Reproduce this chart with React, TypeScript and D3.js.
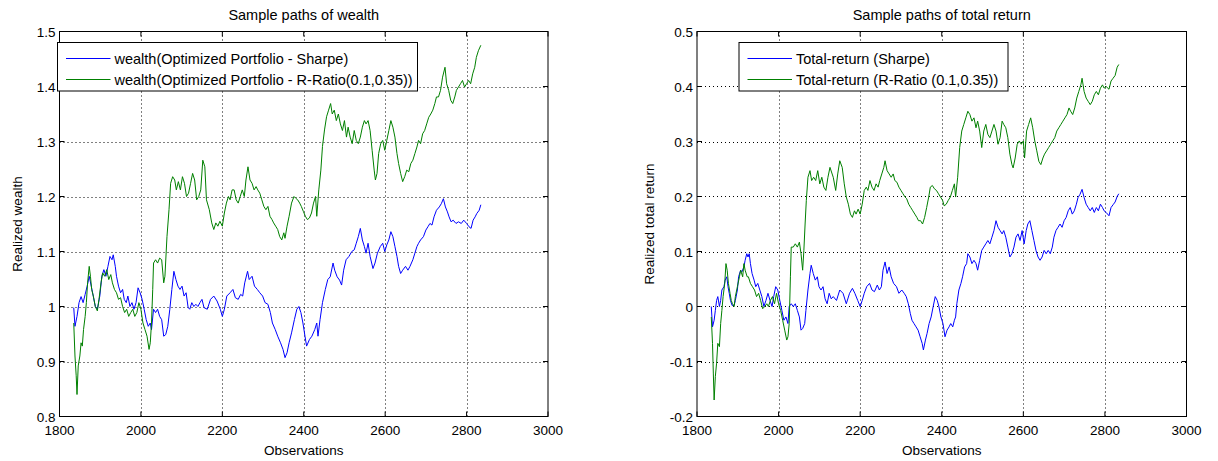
import * as d3 from 'd3'

const X_TICKS = [1800, 2000, 2200, 2400, 2600, 2800, 3000]
const WEALTH_TICKS = [0.8, 0.9, 1, 1.1, 1.2, 1.3, 1.4, 1.5]
const RETURN_TICKS = [-0.2, -0.1, 0, 0.1, 0.2, 0.3, 0.4, 0.5]

type Pt = [number, number]

const SHARPE_WEALTH: Pt[] = [[1835,0.998],[1838,0.964],[1843,0.982],[1848,1.007],[1853,1.018],[1858,1.007],[1863,1.022],[1868,1.037],[1873,1.055],[1878,1.037],[1883,1.019],[1888,1.0],[1893,0.995],[1899,1.019],[1904,1.055],[1909,1.067],[1914,1.055],[1919,1.073],[1924,1.091],[1929,1.085],[1932,1.094],[1937,1.073],[1940,1.055],[1945,1.037],[1950,1.025],[1955,1.031],[1959,1.013],[1964,1.007],[1968,1.019],[1973,1.0],[1978,1.007],[1983,0.995],[1988,1.007],[1993,1.034],[1998,1.025],[2003,1.013],[2008,0.995],[2013,0.976],[2018,0.964],[2023,0.97],[2026,0.958],[2031,0.995],[2036,0.989],[2041,0.995],[2046,0.982],[2051,0.976],[2056,0.946],[2061,0.949],[2066,0.964],[2071,0.995],[2076,1.031],[2081,1.064],[2086,1.049],[2091,1.037],[2096,1.031],[2101,1.037],[2106,1.019],[2111,1.025],[2116,0.998],[2120,0.995],[2125,1.007],[2130,1.0],[2135,1.004],[2140,1.0],[2145,1.007],[2150,1.013],[2155,0.998],[2163,0.995],[2171,1.013],[2179,1.019],[2187,1.01],[2195,0.995],[2200,0.982],[2205,0.995],[2211,1.019],[2219,1.025],[2226,1.031],[2232,1.016],[2239,1.013],[2245,1.022],[2250,1.019],[2255,1.043],[2262,1.064],[2266,1.049],[2273,1.055],[2279,1.037],[2286,1.031],[2292,1.025],[2299,1.019],[2305,1.007],[2312,1.004],[2318,0.989],[2323,0.97],[2330,0.958],[2336,0.946],[2343,0.934],[2349,0.922],[2354,0.907],[2359,0.916],[2364,0.934],[2370,0.952],[2377,0.976],[2383,0.995],[2388,1.0],[2393,0.989],[2398,0.97],[2403,0.946],[2407,0.928],[2414,0.94],[2420,0.946],[2427,0.958],[2432,0.97],[2435,0.946],[2440,0.976],[2446,1.007],[2453,1.031],[2459,1.049],[2465,1.054],[2472,1.079],[2476,1.066],[2482,1.054],[2488,1.048],[2493,1.039],[2498,1.066],[2504,1.085],[2511,1.091],[2518,1.1],[2524,1.103],[2529,1.115],[2534,1.127],[2539,1.142],[2544,1.121],[2549,1.109],[2553,1.097],[2558,1.115],[2563,1.091],[2570,1.069],[2575,1.079],[2581,1.097],[2588,1.109],[2594,1.115],[2599,1.1],[2604,1.112],[2609,1.121],[2614,1.136],[2619,1.127],[2624,1.109],[2629,1.091],[2633,1.073],[2638,1.06],[2643,1.066],[2650,1.073],[2656,1.066],[2661,1.073],[2668,1.085],[2673,1.097],[2678,1.109],[2682,1.115],[2687,1.121],[2694,1.127],[2700,1.139],[2705,1.145],[2710,1.151],[2715,1.148],[2720,1.163],[2726,1.175],[2733,1.181],[2738,1.187],[2743,1.196],[2748,1.181],[2753,1.172],[2757,1.163],[2762,1.154],[2767,1.157],[2774,1.151],[2780,1.154],[2787,1.151],[2793,1.157],[2800,1.151],[2806,1.145],[2811,1.142],[2816,1.157],[2821,1.163],[2825,1.169],[2831,1.175],[2835,1.185]]

const RRATIO_WEALTH: Pt[] = [[1835,0.97],[1838,0.91],[1841,0.874],[1843,0.84],[1846,0.892],[1850,0.91],[1853,0.934],[1856,0.928],[1859,0.958],[1863,0.982],[1866,1.007],[1869,1.043],[1873,1.073],[1876,1.055],[1879,1.031],[1883,1.019],[1888,1.0],[1893,0.992],[1897,1.013],[1902,1.043],[1906,1.061],[1911,1.055],[1916,1.067],[1921,1.049],[1926,1.058],[1930,1.043],[1935,1.031],[1940,1.025],[1945,1.013],[1950,1.016],[1955,1.0],[1960,0.989],[1965,0.995],[1970,0.982],[1975,0.989],[1980,0.995],[1985,0.982],[1990,0.989],[1995,1.007],[2000,0.995],[2005,0.97],[2010,0.958],[2015,0.946],[2020,0.922],[2023,0.934],[2026,0.97],[2029,1.031],[2031,1.079],[2036,1.085],[2041,1.079],[2046,1.088],[2051,1.085],[2056,1.043],[2059,1.055],[2064,1.127],[2069,1.176],[2073,1.224],[2078,1.236],[2083,1.23],[2087,1.212],[2092,1.227],[2097,1.212],[2102,1.236],[2107,1.224],[2112,1.2],[2117,1.206],[2122,1.224],[2127,1.242],[2132,1.23],[2137,1.194],[2142,1.2],[2147,1.212],[2152,1.266],[2157,1.254],[2161,1.194],[2168,1.176],[2174,1.152],[2179,1.14],[2184,1.152],[2189,1.146],[2194,1.155],[2200,1.146],[2205,1.17],[2210,1.188],[2215,1.2],[2219,1.194],[2224,1.212],[2229,1.212],[2234,1.194],[2239,1.188],[2244,1.2],[2249,1.212],[2254,1.2],[2258,1.23],[2263,1.254],[2268,1.23],[2273,1.224],[2278,1.212],[2283,1.218],[2287,1.212],[2292,1.206],[2297,1.194],[2302,1.182],[2307,1.176],[2312,1.182],[2317,1.164],[2322,1.158],[2326,1.152],[2331,1.146],[2336,1.14],[2341,1.127],[2346,1.121],[2351,1.134],[2354,1.124],[2359,1.146],[2364,1.164],[2370,1.188],[2376,1.2],[2380,1.197],[2385,1.194],[2390,1.188],[2394,1.182],[2399,1.173],[2404,1.164],[2409,1.158],[2414,1.161],[2419,1.17],[2424,1.188],[2429,1.2],[2432,1.164],[2437,1.212],[2442,1.248],[2446,1.291],[2451,1.321],[2456,1.345],[2461,1.357],[2466,1.369],[2470,1.35],[2475,1.357],[2480,1.338],[2485,1.35],[2490,1.332],[2495,1.32],[2500,1.338],[2505,1.308],[2509,1.326],[2514,1.308],[2519,1.296],[2524,1.32],[2529,1.302],[2534,1.296],[2539,1.308],[2544,1.326],[2549,1.338],[2553,1.332],[2558,1.338],[2563,1.32],[2568,1.284],[2573,1.248],[2576,1.23],[2580,1.242],[2584,1.278],[2589,1.296],[2594,1.302],[2599,1.284],[2604,1.302],[2609,1.32],[2614,1.338],[2619,1.326],[2624,1.308],[2629,1.278],[2633,1.26],[2638,1.242],[2643,1.227],[2648,1.236],[2653,1.248],[2658,1.245],[2663,1.26],[2668,1.266],[2673,1.278],[2678,1.29],[2682,1.302],[2687,1.296],[2692,1.314],[2697,1.32],[2702,1.332],[2707,1.344],[2712,1.35],[2717,1.357],[2722,1.369],[2726,1.381],[2731,1.381],[2736,1.393],[2741,1.417],[2747,1.435],[2751,1.405],[2756,1.393],[2761,1.375],[2766,1.369],[2771,1.381],[2775,1.393],[2780,1.399],[2785,1.405],[2790,1.411],[2795,1.399],[2800,1.405],[2805,1.411],[2810,1.405],[2815,1.423],[2820,1.435],[2824,1.453],[2829,1.465],[2835,1.475]]

const SHARPE_RETURN: Pt[] = [[1835,0.0],[1838,-0.037],[1842,-0.025],[1845,-0.007],[1848,0.011],[1851,0.018],[1855,0.0],[1858,0.011],[1861,0.03],[1866,0.036],[1869,0.048],[1873,0.054],[1876,0.036],[1879,0.024],[1882,0.011],[1886,0.002],[1891,0.002],[1894,0.011],[1899,0.03],[1902,0.054],[1907,0.066],[1910,0.063],[1915,0.072],[1918,0.084],[1922,0.096],[1925,0.09],[1928,0.096],[1931,0.078],[1935,0.06],[1940,0.048],[1944,0.036],[1949,0.042],[1954,0.03],[1959,0.018],[1964,0.0],[1969,0.011],[1974,0.024],[1979,0.011],[1984,0.0],[1988,0.018],[1993,0.036],[1998,0.03],[2003,0.011],[2008,-0.007],[2013,-0.025],[2018,-0.019],[2023,-0.031],[2026,0.0],[2031,0.005],[2036,0.0],[2041,0.005],[2046,-0.007],[2051,-0.019],[2055,-0.043],[2059,-0.04],[2064,-0.031],[2067,-0.007],[2072,0.03],[2077,0.06],[2080,0.075],[2085,0.06],[2090,0.048],[2095,0.054],[2099,0.036],[2104,0.03],[2109,0.036],[2114,0.014],[2119,0.005],[2124,0.024],[2129,0.014],[2134,0.018],[2142,0.011],[2150,0.03],[2158,0.024],[2166,0.005],[2174,0.024],[2181,0.033],[2187,0.024],[2194,0.011],[2200,0.0],[2205,0.011],[2210,0.024],[2216,0.036],[2223,0.042],[2229,0.03],[2235,0.027],[2242,0.039],[2247,0.03],[2252,0.036],[2256,0.066],[2261,0.081],[2266,0.06],[2271,0.072],[2276,0.054],[2282,0.042],[2289,0.036],[2295,0.024],[2302,0.03],[2308,0.024],[2313,0.018],[2318,0.005],[2323,-0.013],[2327,-0.025],[2332,-0.031],[2337,-0.037],[2342,-0.043],[2347,-0.055],[2352,-0.067],[2355,-0.079],[2360,-0.061],[2364,-0.049],[2369,-0.031],[2374,-0.019],[2379,0.0],[2384,0.018],[2389,0.011],[2393,0.0],[2398,-0.019],[2403,-0.031],[2408,-0.055],[2413,-0.043],[2418,-0.037],[2422,-0.031],[2427,-0.037],[2431,-0.025],[2434,-0.019],[2437,0.005],[2442,0.03],[2447,0.042],[2451,0.054],[2456,0.072],[2461,0.078],[2464,0.096],[2469,0.09],[2474,0.078],[2479,0.084],[2484,0.078],[2488,0.066],[2493,0.084],[2498,0.102],[2503,0.108],[2508,0.114],[2513,0.12],[2518,0.114],[2523,0.126],[2528,0.138],[2533,0.156],[2538,0.144],[2543,0.138],[2548,0.132],[2552,0.138],[2557,0.126],[2562,0.108],[2567,0.09],[2572,0.096],[2577,0.108],[2582,0.126],[2587,0.132],[2592,0.12],[2597,0.138],[2602,0.114],[2607,0.138],[2611,0.15],[2616,0.156],[2621,0.138],[2626,0.12],[2631,0.102],[2636,0.09],[2641,0.084],[2646,0.09],[2651,0.102],[2656,0.096],[2661,0.102],[2666,0.096],[2671,0.108],[2675,0.126],[2680,0.138],[2685,0.144],[2690,0.15],[2695,0.144],[2700,0.156],[2705,0.162],[2710,0.174],[2715,0.18],[2720,0.168],[2725,0.174],[2730,0.186],[2734,0.198],[2739,0.204],[2744,0.213],[2749,0.198],[2754,0.186],[2759,0.18],[2764,0.174],[2769,0.18],[2774,0.171],[2779,0.18],[2784,0.174],[2789,0.186],[2794,0.18],[2798,0.174],[2803,0.171],[2810,0.165],[2815,0.18],[2820,0.185],[2825,0.19],[2830,0.2],[2834,0.205]]

const RRATIO_RETURN: Pt[] = [[1835,-0.019],[1838,-0.067],[1840,-0.121],[1842,-0.17],[1845,-0.127],[1848,-0.103],[1851,-0.067],[1855,-0.073],[1858,-0.031],[1861,-0.007],[1864,0.018],[1868,0.042],[1871,0.078],[1874,0.066],[1877,0.042],[1881,0.024],[1884,0.011],[1887,0.005],[1891,0.0],[1894,0.018],[1899,0.036],[1904,0.054],[1907,0.066],[1912,0.054],[1915,0.078],[1918,0.066],[1923,0.054],[1926,0.054],[1931,0.042],[1936,0.036],[1941,0.03],[1946,0.018],[1951,0.024],[1956,0.011],[1961,-0.004],[1966,0.0],[1971,0.005],[1975,0.0],[1980,0.011],[1985,0.018],[1990,0.005],[1995,0.024],[2000,0.005],[2005,-0.007],[2010,-0.025],[2015,-0.043],[2020,-0.061],[2023,-0.055],[2026,-0.031],[2029,0.054],[2031,0.108],[2036,0.108],[2041,0.114],[2046,0.108],[2051,0.117],[2055,0.096],[2059,0.066],[2062,0.102],[2065,0.15],[2068,0.193],[2072,0.235],[2077,0.247],[2081,0.229],[2086,0.235],[2091,0.229],[2096,0.247],[2101,0.223],[2106,0.235],[2111,0.217],[2116,0.211],[2121,0.235],[2126,0.253],[2134,0.235],[2140,0.211],[2145,0.241],[2150,0.265],[2156,0.253],[2161,0.223],[2166,0.199],[2171,0.186],[2176,0.168],[2181,0.162],[2186,0.174],[2190,0.168],[2195,0.177],[2200,0.168],[2205,0.186],[2210,0.211],[2215,0.217],[2219,0.211],[2224,0.229],[2229,0.217],[2234,0.211],[2239,0.223],[2244,0.217],[2248,0.229],[2253,0.241],[2258,0.253],[2261,0.265],[2266,0.247],[2271,0.241],[2276,0.235],[2281,0.241],[2285,0.229],[2290,0.226],[2295,0.217],[2300,0.211],[2305,0.205],[2310,0.199],[2314,0.196],[2319,0.186],[2324,0.18],[2329,0.174],[2334,0.168],[2339,0.162],[2343,0.156],[2348,0.156],[2353,0.15],[2358,0.162],[2363,0.18],[2368,0.199],[2372,0.217],[2377,0.22],[2382,0.214],[2387,0.211],[2392,0.205],[2397,0.199],[2402,0.193],[2406,0.183],[2411,0.186],[2416,0.193],[2421,0.199],[2426,0.211],[2431,0.223],[2434,0.199],[2439,0.235],[2444,0.289],[2449,0.319],[2454,0.331],[2459,0.343],[2464,0.355],[2469,0.349],[2474,0.337],[2479,0.343],[2484,0.325],[2488,0.337],[2493,0.319],[2498,0.289],[2503,0.319],[2508,0.331],[2513,0.313],[2518,0.307],[2523,0.319],[2528,0.331],[2533,0.319],[2538,0.295],[2543,0.307],[2548,0.337],[2552,0.331],[2557,0.325],[2562,0.307],[2567,0.277],[2572,0.258],[2575,0.252],[2580,0.27],[2585,0.295],[2590,0.301],[2595,0.295],[2600,0.301],[2603,0.27],[2608,0.319],[2613,0.331],[2618,0.343],[2623,0.325],[2628,0.301],[2633,0.283],[2638,0.264],[2643,0.258],[2648,0.27],[2652,0.277],[2657,0.283],[2662,0.289],[2667,0.295],[2672,0.301],[2677,0.307],[2682,0.319],[2687,0.325],[2692,0.331],[2697,0.337],[2702,0.343],[2707,0.349],[2712,0.361],[2716,0.355],[2721,0.349],[2726,0.361],[2731,0.379],[2736,0.391],[2741,0.403],[2744,0.415],[2749,0.391],[2754,0.379],[2759,0.373],[2764,0.367],[2769,0.373],[2774,0.385],[2779,0.391],[2784,0.385],[2789,0.397],[2794,0.403],[2798,0.397],[2803,0.4],[2810,0.395],[2815,0.41],[2820,0.415],[2825,0.42],[2830,0.435],[2834,0.44]]

const BLUE = '#0000ff'
const GREEN = '#008000'
const FONT = '"Liberation Sans", Arial, Helvetica, sans-serif'

interface Series { label: string; color: string; data: Pt[] }
interface PanelProps {
  left: number; right: number
  title: string; ylabel: string; ylabelX: number
  yTicks: number[]
  series: Series[]
  legend: { x: number; w: number }
}

const TOP = 31.5
const BOTTOM = 416.5

function Panel({ left, right, title, ylabel, ylabelX, yTicks, series, legend }: PanelProps) {
  const x = d3.scaleLinear().domain([1800, 3000]).range([left, right])
  const y = d3.scaleLinear().domain([yTicks[0], yTicks[yTicks.length - 1]]).range([BOTTOM, TOP])
  const line = d3.line<Pt>().x(d => x(d[0])).y(d => y(d[1]))
  const fmt = (v: number) => String(Math.round(v * 10) / 10)
  const tk = 5
  const cx = (left + right) / 2
  const legY = 42.5
  const legH = 48.5

  return (
    <g fontFamily={FONT} fontSize={13.5} fill="#000">
      {/* grid */}
      {X_TICKS.slice(1, -1).map(t => (
        <line key={'gx' + t} x1={Math.round(x(t)) + 0.5} x2={Math.round(x(t)) + 0.5} y1={TOP} y2={BOTTOM} stroke="#000" strokeWidth={1} strokeDasharray="1,3" />
      ))}
      {yTicks.slice(1, -1).map(t => (
        <line key={'gy' + t} x1={left} x2={right} y1={Math.round(y(t)) + 0.5} y2={Math.round(y(t)) + 0.5} stroke="#000" strokeWidth={1} strokeDasharray="1,3" />
      ))}
      {/* series */}
      {series.map(s => (
        <path key={s.label} d={line(s.data) ?? ''} fill="none" stroke={s.color} strokeWidth={1} strokeLinejoin="round" />
      ))}
      {/* box + ticks */}
      <rect x={left} y={TOP} width={right - left} height={BOTTOM - TOP} fill="none" stroke="#000" strokeWidth={1} />
      {X_TICKS.map(t => (
        <g key={'tx' + t}>
          <line x1={x(t)} x2={x(t)} y1={BOTTOM} y2={BOTTOM - tk} stroke="#000" />
          <line x1={x(t)} x2={x(t)} y1={TOP} y2={TOP + tk} stroke="#000" />
          <text x={x(t)} y={BOTTOM + 18} textAnchor="middle">{t}</text>
        </g>
      ))}
      {yTicks.map(t => (
        <g key={'ty' + t}>
          <line x1={left} x2={left + tk} y1={y(t)} y2={y(t)} stroke="#000" />
          <line x1={right} x2={right - tk} y1={y(t)} y2={y(t)} stroke="#000" />
          <text x={left - 4} y={y(t) + 5} textAnchor="end">{fmt(t)}</text>
        </g>
      ))}
      {/* labels */}
      <text x={cx} y={20} textAnchor="middle" fontSize={14.5}>{title}</text>
      <text x={cx} y={455} textAnchor="middle">Observations</text>
      <text transform={`translate(${ylabelX},${(TOP + BOTTOM) / 2}) rotate(-90)`} textAnchor="middle">{ylabel}</text>
      {/* legend */}
      <rect x={legend.x} y={legY} width={legend.w} height={legH} fill="#fff" stroke="#000" strokeWidth={1} />
      {series.map((s, i) => {
        const ly = Math.round(legY + 15 + i * 21.5) + 0.5
        return (
          <g key={'lg' + s.label}>
            <line x1={legend.x + 8.5} x2={legend.x + 53} y1={ly} y2={ly} stroke={s.color} strokeWidth={1.2} />
            <text x={legend.x + 57} y={ly + 5} fontSize={14.5}>{s.label}</text>
          </g>
        )
      })}
    </g>
  )
}

export default function App() {
  return (
    <div style={{ position: 'fixed', inset: 0, background: '#fff' }}>
      <svg width={1218} height={461} viewBox="0 0 1218 461" style={{ display: 'block' }}>
        <rect width={1218} height={461} fill="#fff" />
        <Panel
          left={59.5} right={548}
          title="Sample paths of wealth" ylabel="Realized wealth" ylabelX={22}
          yTicks={WEALTH_TICKS}
          legend={{ x: 57.5, w: 360 }}
          series={[
            { label: 'wealth(Optimized Portfolio - Sharpe)', color: BLUE, data: SHARPE_WEALTH },
            { label: 'wealth(Optimized Portfolio - R-Ratio(0.1,0.35))', color: GREEN, data: RRATIO_WEALTH },
          ]}
        />
        <Panel
          left={697} right={1186.5}
          title="Sample paths of total return" ylabel="Realized total return" ylabelX={654}
          yTicks={RETURN_TICKS}
          legend={{ x: 739, w: 269 }}
          series={[
            { label: 'Total-return (Sharpe)', color: BLUE, data: SHARPE_RETURN },
            { label: 'Total-return (R-Ratio (0.1,0.35))', color: GREEN, data: RRATIO_RETURN },
          ]}
        />
      </svg>
    </div>
  )
}
